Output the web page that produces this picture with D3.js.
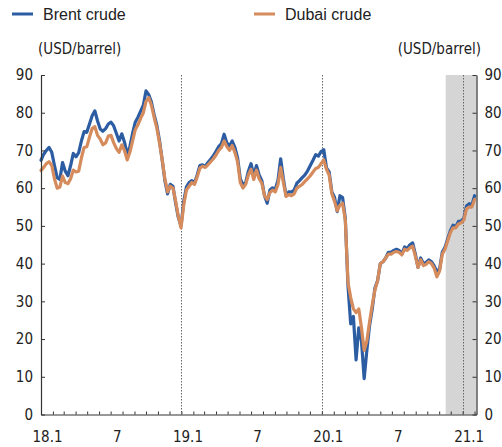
<!DOCTYPE html>
<html><head><meta charset="utf-8">
<script src="https://cdn.jsdelivr.net/npm/d3@7/dist/d3.min.js"></script>
<style>body{margin:0;background:#fff}svg{display:block}</style>
</head><body>
<svg id="c" width="502" height="447"></svg>
<script>
const seriesNames = ["Brent crude", "Dubai crude"];
const startDate = "2018-01-01";
const stepDays = 7;
const brent = [67.4,69,70,70.8,69.5,66,62.8,62.3,66.8,64.5,
 63.3,66,69.2,68.3,69.4,72.5,75,74.8,77,79.2,
 80.5,77.8,75.7,75.1,75.8,77,77.5,76.5,74.5,72.5,
 74.4,72.2,69,71,74.5,77.5,78.8,80.4,82,85.8,
 84.8,82.8,79.5,76.7,72.6,67.5,62,58.5,61,60.5,
 56,52.2,50,
 56.5,60.3,61.5,62,61.3,63.5,66,66.2,65.8,66.8,
 67.7,68.6,69.8,71,71.8,74.3,72,71.2,72.5,70.8,
 68,62.5,60.8,61.5,64.5,66.5,63.2,66,63.5,62,
 58,56,59.5,60.1,59.7,62.1,67.8,62.5,58,59,
 59,59.5,61.3,62,62.8,63.5,64.6,66,67.4,68.9,
 68.5,69.7,
 70.2,65.4,64.3,59,57.6,53.8,58,57.5,52,34,
 24,26,14.5,23,19.5,9.5,17,23.5,28,33.5,
 35.5,40,40.5,41.5,43,43,43.5,43.8,43.5,42.6,
 44.4,44,45,45.5,42.5,39,41.5,40,40.3,41,
 40.5,39.4,38,38.5,43,44.3,46.5,48.7,50.2,49.8,
 51.2,51.3,52,55.3,55.9,55.5,58];
const dubai = [64.7,65.5,66.5,67,66,62.5,60,60.3,63.2,61.5,
 61.2,62.5,64.8,64.3,64.5,68,70.8,71,73.5,75.8,
 76.3,74,73,71.5,72,73.8,74,72,70.5,69.5,
 71.5,70,67.5,69.5,72.5,75.5,76.8,78.5,80,83,
 84,82,78.8,76,72,67.5,62.5,59,60.5,60,
 56.5,52.5,49.5,
 55.5,59.5,60.5,61.5,61,63,65.3,65.8,65.5,66.2,
 67,67.8,68.8,70,70.8,72.5,71,70,71.3,69.5,
 67,61.5,60,61,63.5,65,62.3,64.8,62.5,61.3,
 58,57,58.8,59.5,59,61,65.5,61.5,57.8,58.3,
 58,58.5,60,60.5,61,61.8,62.5,63.3,64.3,65.2,
 65.5,66.5,
 67.5,65,63.5,58.5,56.5,54,55.5,56,51.5,35,
 31,28,27,28,23,17,19.5,24.5,29,33,
 35.5,40,40.5,41.5,42.5,42.5,43,43.2,43,42.3,
 43.8,43.5,44.2,44.6,42,39,41,39.5,39.8,40.5,
 40,38.8,36.5,38,42.5,43.8,46,48.2,49.5,49.5,
 50.5,50.8,51.5,54.5,55,55,57];
const yTicks = [0,10,20,30,40,50,60,70,80,90];
const xLabelDates = ["2018-01-01","2018-07-01","2019-01-01","2019-07-01","2020-01-01","2020-07-01","2021-01-01"];
const xLabelTexts = ["18.1","7","19.1","7","20.1","7","21.1"];
const dottedDates = ["2019-01-01","2020-01-01","2021-01-01"];
const shadeStart = "2020-11-18";
const xDomain = ["2018-01-01","2021-02-06"];
const unitLabel = "(USD/barrel)";

const parse = d3.utcParse("%Y-%m-%d");
const t0 = parse(startDate);
const dates = brent.map((_, i) => d3.utcDay.offset(t0, i * stepDays));
const colors = ["#2c5da3", "#d58b5c"];
const axisFont = "'Liberation Sans Narrow','Arial Narrow','DejaVu Sans Condensed',sans-serif";
const legendFont = "'Liberation Sans',Arial,Helvetica,sans-serif";

const svg = d3.select("#c");
const L = 41, R = 476.5, T = 75, B = 414.5;
const x = d3.scaleUtc().domain(xDomain.map(parse)).range([L, R]);
const y = d3.scaleLinear().domain([0, 90]).range([B, T]);

// shaded region
svg.append("rect")
  .attr("x", x(parse(shadeStart))).attr("y", T)
  .attr("width", R - x(parse(shadeStart))).attr("height", B - T)
  .attr("fill", "#d5d5d5");

// dotted lines
svg.selectAll("line.dot").data(dottedDates).join("line")
  .attr("x1", d => Math.round(x(parse(d))) + 0.5).attr("x2", d => Math.round(x(parse(d))) + 0.5)
  .attr("y1", T).attr("y2", B)
  .attr("stroke", "#666").attr("stroke-width", 1).attr("stroke-dasharray", "1.5,1.5");

// lines
const line = d3.line().x((d, i) => x(dates[i])).y(d => y(d)).curve(d3.curveLinear);
[brent, dubai].forEach((s, k) => {
  svg.append("path").datum(s).attr("d", line)
    .attr("fill", "none").attr("stroke", colors[k]).attr("stroke-width", 3.2)
    .attr("stroke-linejoin", "round").attr("stroke-linecap", "round");
});

// axes
const gl = svg.append("g").attr("transform", `translate(${L},0)`)
  .call(d3.axisLeft(y).tickValues(yTicks).tickSize(-4).tickSizeOuter(0).tickPadding(8));
const gr = svg.append("g").attr("transform", `translate(${R},0)`)
  .call(d3.axisRight(y).tickValues(yTicks).tickSize(-4).tickSizeOuter(0).tickPadding(8));
const gb = svg.append("g").attr("transform", `translate(0,${B})`)
  .call(d3.axisBottom(x).ticks(d3.utcMonth.every(1)).tickSize(-3).tickSizeOuter(0).tickFormat(""));
[gl, gr, gb].forEach(g => {
  g.selectAll("path.domain").attr("stroke", "#333").attr("stroke-width", 1.2);
  g.selectAll(".tick line").attr("stroke", "#333");
  g.selectAll("text").attr("font-family", axisFont).attr("font-size", 15).attr("fill", "#222");
});

// x labels (centered mid-month)
svg.selectAll("text.xl").data(xLabelDates).join("text")
  .attr("x", d => x(d3.utcDay.offset(parse(d), 17)))
  .attr("y", 441.5).attr("text-anchor", "middle")
  .attr("font-family", axisFont).attr("font-size", 15).attr("fill", "#222")
  .text((d, i) => xLabelTexts[i]);

// unit labels
svg.append("text").attr("x", 38).attr("y", 54).attr("font-family", axisFont)
  .attr("font-size", 15).attr("fill", "#222").text(unitLabel);
svg.append("text").attr("x", 481).attr("y", 54).attr("text-anchor", "end").attr("font-family", axisFont)
  .attr("font-size", 15).attr("fill", "#222").text(unitLabel);

// legend
const legX = [12, 254];
seriesNames.forEach((n, k) => {
  svg.append("line").attr("x1", legX[k]).attr("x2", legX[k] + 21).attr("y1", 14).attr("y2", 14)
    .attr("stroke", colors[k]).attr("stroke-width", 3);
  svg.append("text").attr("x", legX[k] + 31).attr("y", 20).attr("font-family", legendFont)
    .attr("font-size", 16).attr("fill", "#222").text(n);
});
</script>
</body></html>
